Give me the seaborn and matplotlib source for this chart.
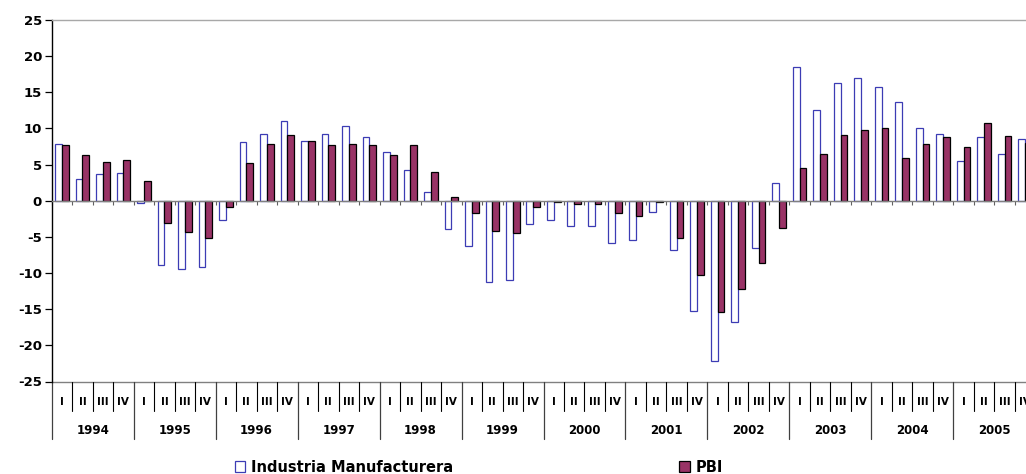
import pandas as pd
import matplotlib.pyplot as plt
import matplotlib.transforms as mtransforms
from matplotlib.patches import Patch
import seaborn as sns

years = ['1994', '1995', '1996', '1997', '1998', '1999',
         '2000', '2001', '2002', '2003', '2004', '2005']
quarters = ['I', 'II', 'III', 'IV']

# variacion % trimestral
industria = [
    7.9, 3.0, 3.7, 3.9,        # 1994
    -0.3, -8.9, -9.5, -9.2,    # 1995
    -2.7, 8.1, 9.2, 11.0,      # 1996
    8.3, 9.2, 10.3, 8.8,       # 1997
    6.7, 4.2, 1.2, -3.9,       # 1998
    -6.3, -11.2, -10.9, -3.2,  # 1999
    -2.6, -3.5, -3.5, -5.9,    # 2000
    -5.4, -1.5, -6.8, -15.3,   # 2001
    -22.1, -16.8, -6.6, 2.4,   # 2002
    18.5, 12.5, 16.3, 17.0,    # 2003
    15.8, 13.7, 10.0, 9.2,     # 2004
    5.5, 8.8, 6.5, 8.6,        # 2005
]
pbi = [
    7.7, 6.3, 5.3, 5.6,
    2.7, -3.1, -4.3, -5.2,
    -0.9, 5.2, 7.9, 9.1,
    8.3, 7.7, 7.9, 7.7,
    6.3, 7.7, 4.0, 0.5,
    -1.7, -4.2, -4.5, -0.9,
    -0.2, -0.5, -0.5, -1.7,
    -2.1, -0.2, -5.1, -10.3,
    -15.4, -12.2, -8.6, -3.7,
    4.5, 6.4, 9.1, 9.8,
    10.0, 5.9, 7.9, 8.8,
    7.5, 10.7, 8.9, 8.0,
]

n = len(industria)
lab_im = 'Industria Manufacturera'
lab_pbi = 'PBI'
df = pd.DataFrame({
    'q': list(range(n)) * 2,
    'serie': [lab_im] * n + [lab_pbi] * n,
    'valor': industria + pbi,
})

sns.set_style('white')
plt.rcParams['font.family'] = ['DejaVu Sans']
plt.rcParams['text.color'] = 'black'
plt.rcParams['ytick.color'] = 'black'
plt.rcParams['xtick.color'] = 'black'

W, H = 1026, 474
fig = plt.figure(figsize=(W / 100, H / 100), dpi=100)
ax = fig.add_axes([51.7 / W, (H - 381.5) / H, (1035.3 - 51.7) / W, 361.5 / H])

blue = '#3c3cb4'
plum = '#993366'
sns.barplot(data=df, x='q', y='valor', hue='serie', hue_order=[lab_im, lab_pbi],
            palette={lab_im: 'white', lab_pbi: plum}, saturation=1,
            width=0.66, gap=0, errorbar=None, legend=False, ax=ax)
for cont, ec in zip(ax.containers, [blue, 'black']):
    for bar in cont:
        bar.set_edgecolor(ec)
        bar.set_linewidth(0.9)

ax.set_xlim(-0.5, n - 0.5)
ax.set_ylim(-25, 25)
ax.set_yticks(range(-25, 26, 5))
ax.set_yticklabels([str(v) for v in range(-25, 26, 5)], fontweight='bold',
                   fontsize=9.5, color='black')
ax.tick_params(axis='y', direction='out', length=5, width=0.9, color='black', pad=2, left=True)
ax.set_xlabel('')
ax.set_ylabel('')

# eje de categorias en cero
ax.spines['bottom'].set_position(('data', 0))
ax.spines['bottom'].set_color('#808080')
ax.spines['top'].set_color('#a8a8a8')
ax.spines['right'].set_visible(False)
ax.spines['left'].set_color('black')
for s in ['bottom', 'top', 'left']:
    ax.spines[s].set_linewidth(1.0)
ax.set_xticks([i - 0.5 for i in range(n + 1)])
ax.set_xticklabels([])
ax.tick_params(axis='x', direction='out', length=3, width=0.8, color='#606060', bottom=True)
ax.axhline(-25, color='#808080', lw=1, clip_on=False)

# etiquetas de trimestre y año debajo
tr = mtransforms.blended_transform_factory(ax.transData, fig.transFigure)
def fy(px):
    return (H - px) / H

for i in range(n):
    ax.text(i, fy(402), quarters[i % 4], transform=tr, ha='center', va='center',
            fontsize=7.5, fontweight='bold', color='black')
    if i % 4 != 0:
        ax.plot([i - 0.5, i - 0.5], [fy(381.5), fy(411)], transform=tr,
                color='black', lw=0.8, clip_on=False)
for k, yr in enumerate(years):
    ax.text(4 * k + 1.5, fy(430), yr, transform=tr, ha='center', va='center',
            fontsize=8.5, fontweight='bold', color='black')
for k in range(len(years) + 1):
    x = 4 * k - 0.5
    ax.plot([x, x], [fy(381.5), fy(439)], transform=tr,
            color='#404040', lw=0.9, clip_on=False)

handles = [Patch(facecolor='white', edgecolor=blue, lw=0.9, label=lab_im),
           Patch(facecolor=plum, edgecolor='black', lw=0.9, label=lab_pbi)]
fig.legend(handles=handles, loc='center', bbox_to_anchor=(479 / W, fy(467)),
           ncol=2, frameon=False, prop={'weight': 'bold', 'size': 10.5},
           handlelength=0.7, handleheight=0.7, handletextpad=0.4,
           columnspacing=15.5, borderpad=0)

fig.savefig('out.png', dpi=100)
